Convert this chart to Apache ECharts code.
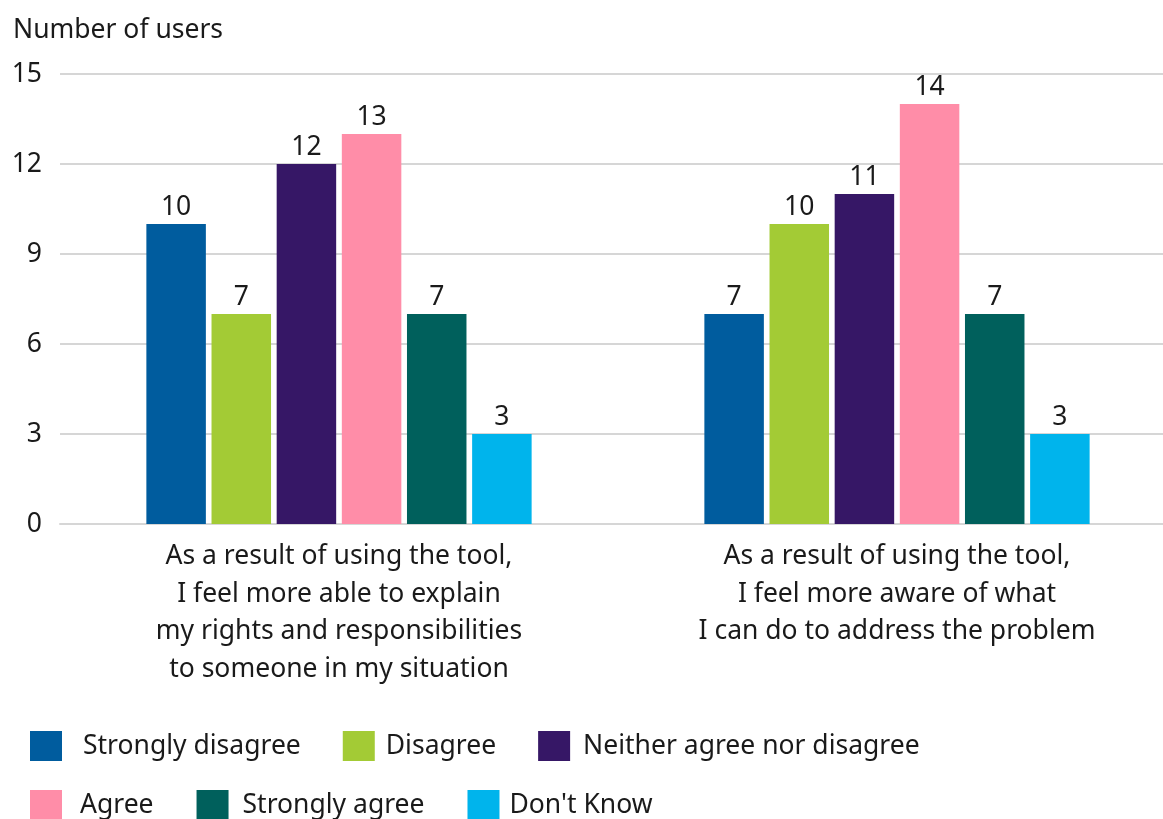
<!DOCTYPE html>
<html>
<head>
<meta charset="utf-8">
<script src="https://cdn.jsdelivr.net/npm/echarts@6/dist/echarts.min.js"></script>
<style>
html,body{margin:0;padding:0;background:#fff;}
#main{width:1163px;height:819px;}
</style>
</head>
<body>
<div id="main"></div>
<script>
const categories = [
  "As a result of using the tool,\nI feel more able to explain\nmy rights and responsibilities\nto someone in my situation",
  "As a result of using the tool,\nI feel more aware of what\nI can do to address the problem"
];
const seriesNames = ["Strongly disagree", "Disagree", "Neither agree nor disagree", "Agree", "Strongly agree", "Don't Know"];
const stronglyDisagree = [10, 7];
const disagree = [7, 10];
const neither = [12, 11];
const agree = [13, 14];
const stronglyAgree = [7, 7];
const dontKnow = [3, 3];
const yTicks = [0, 3, 6, 9, 12, 15];
const colors = ["#005C9E", "#A3CB35", "#361766", "#FF8DA8", "#00605C", "#00B4EC"];

const FONT = "Noto Sans";
const FS = 26.5;
const TXT = "#1a1a1a";
const valuesList = [stronglyDisagree, disagree, neither, agree, stronglyAgree, dontKnow];
const legendPads = [16, 6, 8, 13, 9, 5];

const series = seriesNames.map((n, i) => ({
  name: n,
  type: "bar",
  data: valuesList[i],
  barWidth: 59.5,
  barGap: "9.5%",
  itemStyle: { color: colors[i] },
  label: { show: true, position: "top", distance: 3, color: TXT, fontSize: FS, fontFamily: FONT },
  emphasis: { disabled: true }
}));

const legendItems = seriesNames.map((n, i) => ({ name: n, textStyle: { padding: [0, 0, 0, legendPads[i]] } }));

const chart = echarts.init(document.getElementById("main"), null, { renderer: "canvas" });
chart.setOption({
  animation: false,
  title: {
    text: "Number of users", left: 8, top: 12,
    textStyle: { fontSize: FS, fontWeight: "normal", color: TXT, fontFamily: FONT }
  },
  grid: { left: 60, top: 74, width: 1116, height: 450, containLabel: false, outerBoundsMode: "none" },
  legend: [
    {
      data: legendItems.slice(0, 3), left: 25, top: 726, itemWidth: 32, itemHeight: 30, itemGap: 42,
      icon: "rect", textStyle: { fontSize: FS, color: TXT, fontFamily: FONT }
    },
    {
      data: legendItems.slice(3), left: 25, top: 785, itemWidth: 32, itemHeight: 30, itemGap: 43,
      icon: "rect", textStyle: { fontSize: FS, color: TXT, fontFamily: FONT }
    }
  ],
  xAxis: {
    type: "category", data: categories,
    axisLine: { show: true, lineStyle: { color: "#d6d6d6", width: 2 } },
    axisTick: { show: false },
    axisLabel: { color: TXT, fontSize: FS, fontFamily: FONT, lineHeight: 37.5, margin: 14, interval: 0 }
  },
  yAxis: {
    type: "value", min: 0, max: 15, interval: 3,
    axisLine: { show: false }, axisTick: { show: false },
    splitLine: { lineStyle: { color: "#d6d6d6", width: 2 } },
    axisLabel: { color: TXT, fontSize: FS, fontFamily: FONT, margin: 18,
      formatter: v => yTicks.includes(v) ? String(v) : "" }
  },
  series: series
});
</script>
</body>
</html>
